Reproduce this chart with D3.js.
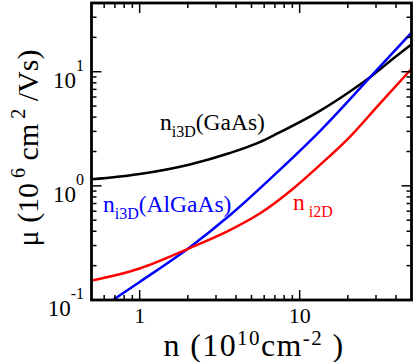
<!DOCTYPE html>
<html>
<head>
<meta charset="utf-8">
<script src="https://cdn.jsdelivr.net/npm/d3@7"></script>
<style>
  body { margin: 0; background: #fff; }
  text { font-family: "Liberation Serif", "DejaVu Serif", serif; }
</style>
</head>
<body>
<svg id="chart" width="415" height="362"></svg>
<script>
// carrier density n (10^10 cm^-2) and mobility mu (10^6 cm^2/Vs)
const gaasN  = [0.5, 1, 2.06, 3.66, 5.63, 7.16, 13.3, 21.4, 28.6, 38.1, 50];
const gaasMu = [1.14, 1.27, 1.54, 1.94, 2.42, 2.85, 4.52, 6.96, 9.32, 12.9, 17.4];

const algaasN  = [0.68, 1, 2.06, 3.66, 7.51, 13.3, 29.4, 50];
const algaasMu = [0.1, 0.144, 0.290, 0.552, 1.38, 2.99, 9.86, 22.0];

const i2dN  = [0.5, 1, 2.06, 3.66, 5.63, 9.09, 13.3, 19.6, 31.6, 50];
const i2dMu = [0.148, 0.189, 0.285, 0.409, 0.572, 0.945, 1.51, 2.50, 5.22, 10.6];

const xDomain = [0.5, 50];
const yDomain = [0.1, 40];
const xTickLabels = ['1', '10'];
const yTickExps = ['-1', '0', '1'];

const svg = d3.select('#chart');
const plotL = 91.5, plotR = 411.5, plotT = 3, plotB = 300;

const x = d3.scaleLog().domain(xDomain).range([plotL, plotR]);
const y = d3.scaleLog().domain(yDomain).range([plotB, plotT]);

// clip for the curves
svg.append('defs').append('clipPath')
    .attr('id', 'plotClip')
  .append('rect')
    .attr('x', plotL).attr('y', plotT)
    .attr('width', plotR - plotL).attr('height', plotB - plotT);

const line = d3.line()
    .x(d => x(d[0]))
    .y(d => y(d[1]))
    .curve(d3.curveMonotoneX);

const series = [
    { n: gaasN, mu: gaasMu, color: '#000000' },
    { n: algaasN, mu: algaasMu, color: '#0000ff' },
    { n: i2dN, mu: i2dMu, color: '#ff0000' }
];

const curves = svg.append('g').attr('clip-path', 'url(#plotClip)');
series.forEach(s => {
    curves.append('path')
        .datum(s.n.map((v, i) => [v, s.mu[i]]))
        .attr('d', line)
        .attr('fill', 'none')
        .attr('stroke', s.color)
        .attr('stroke-width', 2.5);
});

/**
 * Ticks on all four sides, pointing inward
 */
const xMajor = [1, 10];
const xMinor = [0.6, 0.7, 0.8, 0.9, 2, 3, 4, 5, 6, 7, 8, 9, 20, 30, 40];
const yMajor = [0.1, 1, 10];
const yMinor = [0.2, 0.3, 0.4, 0.5, 0.6, 0.7, 0.8, 0.9, 2, 3, 4, 5, 6, 7, 8, 9, 20, 30];

const ticks = svg.append('g')
    .attr('stroke', '#000')
    .attr('stroke-width', 1.5);

function xTick(v, len) {
    ticks.append('line')
        .attr('x1', x(v)).attr('x2', x(v))
        .attr('y1', plotB).attr('y2', plotB - len);
    ticks.append('line')
        .attr('x1', x(v)).attr('x2', x(v))
        .attr('y1', plotT).attr('y2', plotT + len);
}
function yTick(v, len) {
    ticks.append('line')
        .attr('x1', plotL).attr('x2', plotL + len)
        .attr('y1', y(v)).attr('y2', y(v));
    ticks.append('line')
        .attr('x1', plotR).attr('x2', plotR - len)
        .attr('y1', y(v)).attr('y2', y(v));
}
xMajor.forEach(v => xTick(v, 10));
xMinor.forEach(v => xTick(v, 5));
yMajor.forEach(v => yTick(v, 10));
yMinor.forEach(v => yTick(v, 5));

// frame
svg.append('rect')
    .attr('x', plotL).attr('y', plotT)
    .attr('width', plotR - plotL).attr('height', plotB - plotT)
    .attr('fill', 'none')
    .attr('stroke', '#000')
    .attr('stroke-width', 2.8);

/**
 * Tick labels
 */
svg.append('g').selectAll('text')
    .data(xMajor)
    .join('text')
    .attr('x', d => x(d))
    .attr('y', 323)
    .attr('text-anchor', 'middle')
    .attr('font-size', 22)
    .text((d, i) => xTickLabels[i]);

const yLab = svg.append('g').selectAll('text')
    .data(yMajor)
    .join('text')
    .attr('x', 84)
    .attr('y', d => y(d) + 16)
    .attr('text-anchor', 'end')
    .attr('font-size', 23);
yLab.append('tspan').text('10');
yLab.append('tspan')
    .attr('dy', -17)
    .attr('font-size', 16)
    .text((d, i) => yTickExps[i]);

/**
 * Axis titles
 */
const xTitle = svg.append('text')
    .attr('x', 254)
    .attr('y', 356)
    .attr('text-anchor', 'middle')
    .attr('letter-spacing', 1.4)
    .attr('font-size', 32);
xTitle.append('tspan').text('n (10');
xTitle.append('tspan').attr('dy', -11).attr('font-size', 21).text('10');
xTitle.append('tspan').attr('dy', 11).text('cm');
xTitle.append('tspan').attr('dy', -11).attr('font-size', 21).text('-2');
xTitle.append('tspan').attr('dy', 11).text(' )');

const yTitle = svg.append('text')
    .attr('transform', 'translate(38,148) rotate(-90)')
    .attr('text-anchor', 'middle')
    .attr('font-size', 30);
yTitle.append('tspan').text('\u03bc (10');
yTitle.append('tspan').attr('dy', -13).attr('font-size', 20).text(' 6');
yTitle.append('tspan').attr('dy', 13).text(' cm');
yTitle.append('tspan').attr('dy', -13).attr('font-size', 20).text(' 2');
yTitle.append('tspan').attr('dy', 13).text(' /Vs)');

/**
 * Curve labels
 */
function curveLabel(px, py, sub, rest, color) {
    const t = svg.append('text')
        .attr('x', px).attr('y', py)
        .attr('font-size', 23.5)
        .attr('fill', color);
    t.append('tspan').text('n');
    t.append('tspan').attr('dy', 7).attr('font-size', 16).text(sub);
    t.append('tspan').attr('dy', -7).text(rest);
}
curveLabel(160, 130, 'i3D', '(GaAs)', '#000000');
curveLabel(103, 212, 'i3D', '(AlGaAs)', '#0000ff');
curveLabel(293, 210, ' i2D', '', '#ff0000');
</script>
</body>
</html>
